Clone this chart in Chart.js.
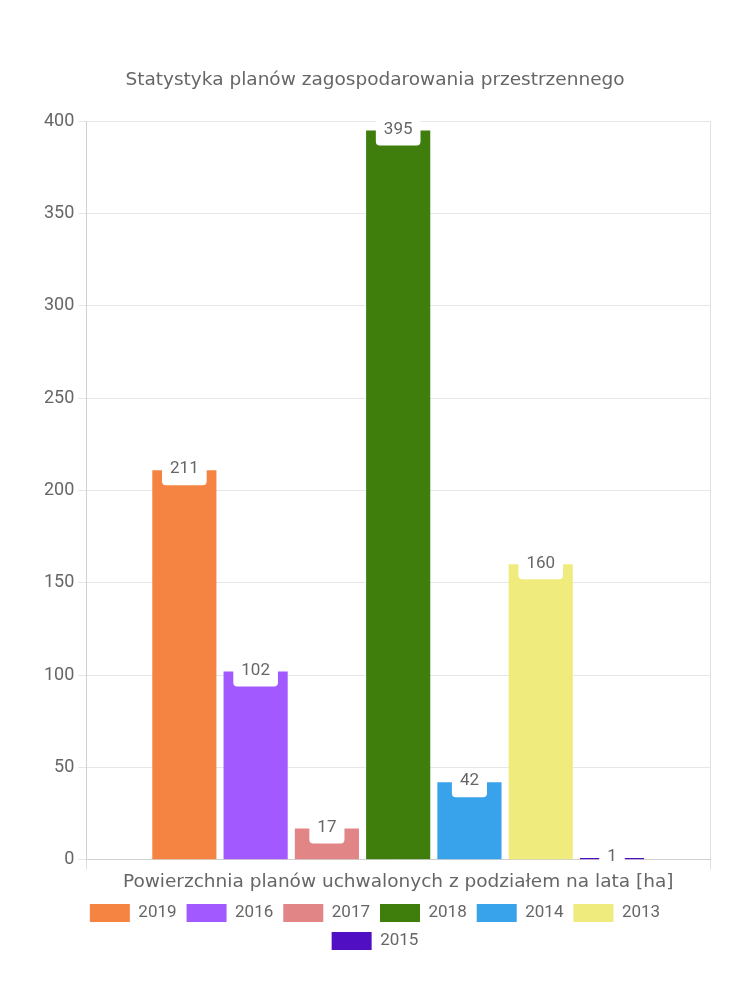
<!DOCTYPE html>
<html>
<head>
<meta charset="utf-8">
<script src="https://cdn.jsdelivr.net/npm/chart.js@4"></script>
<style>
  html, body { margin: 0; padding: 0; background: #fff; }
  #wrap { width: 750px; height: 1000px; }
</style>
</head>
<body>
<div id="wrap"><canvas id="planChart"></canvas></div>
<script>
const categories = ['Powierzchnia planów uchwalonych z podziałem na lata [ha]'];
const years = ['2019', '2016', '2017', '2018', '2014', '2013', '2015'];
const areas = [211, 102, 17, 395, 42, 160, 1];
const colors = ['#F58442', '#A259FF', '#E28586', '#3F7E0D', '#38A3EA', '#F0EB7D', '#500FC3'];
const yTicks = [0, 50, 100, 150, 200, 250, 300, 350, 400];

// white rounded value boxes on top of the bars
const valueLabels = {
    id: 'valueLabels',
    afterDatasetsDraw(chart) {
        const ctx = chart.ctx;
        ctx.save();
        ctx.font = '17px Roboto, sans-serif';
        ctx.textAlign = 'center';
        ctx.textBaseline = 'middle';
        chart.data.datasets.forEach((ds, i) => {
            const meta = chart.getDatasetMeta(i);
            meta.data.forEach((el, j) => {
                const text = String(ds.data[j]);
                const w = ctx.measureText(text).width + 16;
                const h = 28;
                const cx = el.x;
                const cy = el.y + 1;
                ctx.fillStyle = '#ffffff';
                ctx.beginPath();
                ctx.roundRect(cx - w / 2, cy - h / 2, w, h, 4);
                ctx.fill();
                ctx.fillStyle = '#666666';
                ctx.fillText(text, cx, cy - 2);
            });
        });
        ctx.restore();
    }
};

const ctx = document.getElementById('planChart').getContext('2d');
new Chart(ctx, {
    type: 'bar',
    data: {
        labels: categories,
        datasets: years.map((y, i) => ({
            label: y,
            data: [areas[i]],
            backgroundColor: colors[i],
            borderWidth: 0
        }))
    },
    options: {
        responsive: true,
        maintainAspectRatio: false,
        animation: false,
        layout: {
            padding: { left: 40, right: 40, top: 60, bottom: 40 }
        },
        plugins: {
            title: {
                display: true,
                text: 'Statystyka planów zagospodarowania przestrzennego',
                color: '#666666',
                font: { family: '"DejaVu Sans", sans-serif', size: 18.5, weight: 'normal' },
                padding: { top: 9, bottom: 30 }
            },
            legend: {
                position: 'bottom',
                labels: {
                    color: '#666666',
                    boxWidth: 40,
                    boxHeight: 18,
                    padding: 10,
                    font: { family: 'Roboto, sans-serif', size: 17 }
                }
            },
            tooltip: { enabled: false }
        },
        scales: {
            y: {
                min: 0,
                max: 400,
                afterBuildTicks: (axis) => {
                    axis.ticks = yTicks.map(v => ({ value: v }));
                },
                grid: {
                    color: '#e6e6e6',
                    tickLength: 8
                },
                border: { color: '#d0d0d0' },
                ticks: {
                    color: '#666666',
                    padding: 4,
                    font: { family: 'Roboto, sans-serif', size: 18 }
                }
            },
            x: {
                grid: {
                    color: '#e0e0e0',
                    tickLength: 10
                },
                border: { color: '#d0d0d0' },
                ticks: {
                    color: '#666666',
                    padding: 1,
                    font: { family: '"DejaVu Sans", sans-serif', size: 18.5 }
                }
            }
        }
    },
    plugins: [valueLabels]
});
</script>
</body>
</html>
